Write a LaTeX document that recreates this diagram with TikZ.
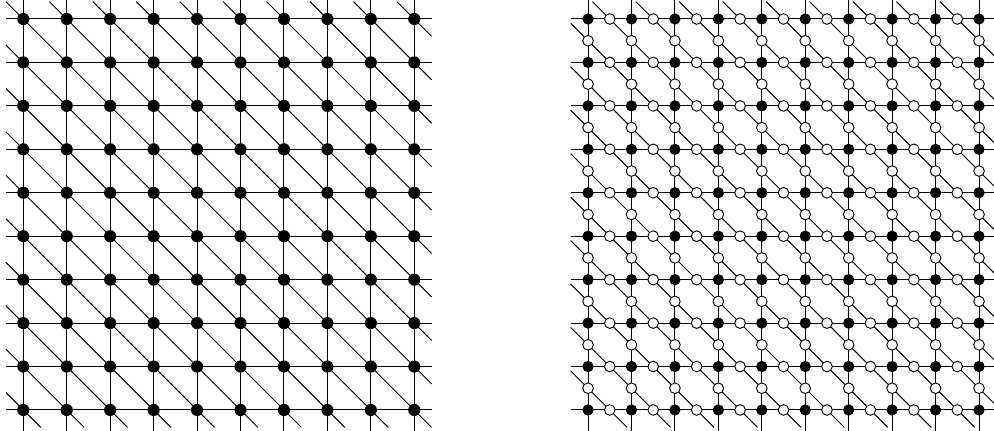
\documentclass[tikz,border=0pt]{standalone}

\tikzset{
  site/.style={circle, fill=black, inner sep=0pt, minimum size=0.28cm},
  rsite/.style={circle, fill=black, inner sep=0pt, minimum size=0.26cm},
  midsite/.style={circle, draw=black, fill=white, line width=0.6pt, inner sep=0pt, minimum size=0.245cm},
}

\begin{document}
\begin{tikzpicture}[y=-1cm, line width=0.65pt]

  \useasboundingbox (-0.536,-0.437) rectangle (22.345,9.483);
  \clip (-0.536,-0.437) rectangle (22.345,9.483);

  % -- Left: triangular lattice --
  \foreach \j in {0,...,9} \draw (-0.4,\j) -- (9.4,\j);
  \foreach \i in {0,...,9} \draw (\i,-0.5) -- (\i,9.5);
  \foreach \k in {0,...,9} \draw (\k-0.4,-0.4) -- (9.4,9.4-\k);
  \foreach \k in {1,...,9} \draw (-0.4,\k-0.4) -- (9.4-\k,9.4);

  \foreach \i in {0,...,9}
    \foreach \j in {0,...,9}
      \node[site] (L-\i-\j) at (\i,\j) {};

  % -- Right: decorated lattice --
  \begin{scope}[xshift=13cm]
    \foreach \j in {0,...,9} \draw (-0.4,\j) -- (9.4,\j);
    \foreach \i in {0,...,9} \draw (\i,-0.5) -- (\i,9.5);
    \foreach \d in {0.5,1.5,...,8.5} \draw (\d-0.4,-0.4) -- (9.4,9.4-\d);
    \foreach \d in {0.5,1.5,...,8.5} \draw (-0.4,\d-0.4) -- (9.4-\d,9.4);

    % Midpoints of bonds
    \foreach \i in {0,...,8}
      \foreach \j in {0,...,9} {
        \node[midsite] (H-\i-\j) at (\i+0.5,\j) {};
        \node[midsite] (V-\j-\i) at (\j,\i+0.5) {};
      }

    \foreach \i in {0,...,9}
      \foreach \j in {0,...,9}
        \node[rsite] (R-\i-\j) at (\i,\j) {};
  \end{scope}

\end{tikzpicture}
\end{document}
